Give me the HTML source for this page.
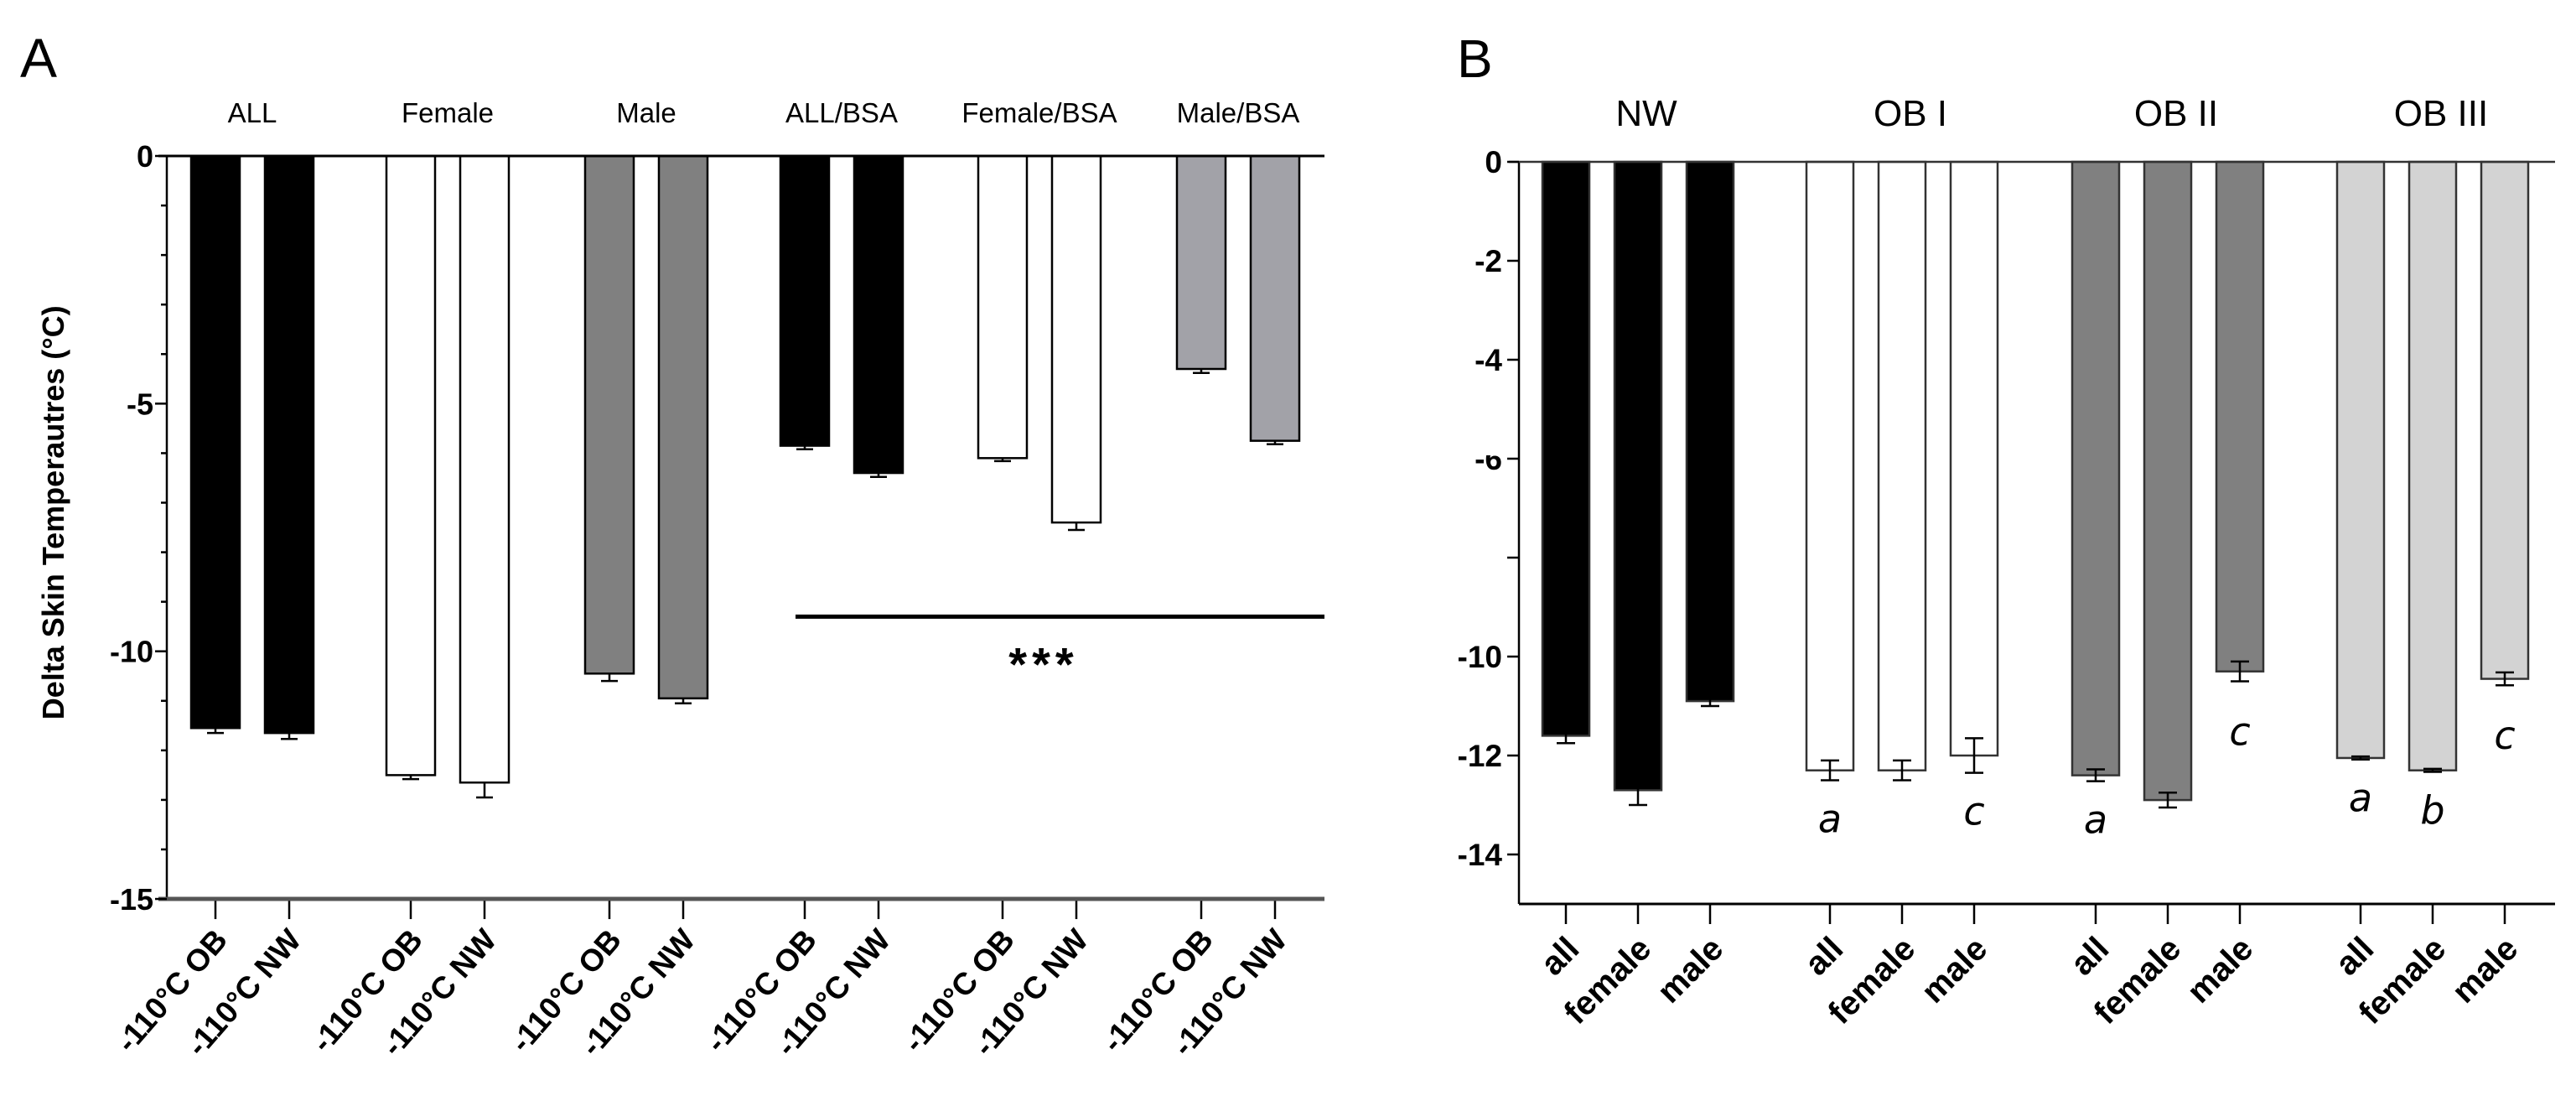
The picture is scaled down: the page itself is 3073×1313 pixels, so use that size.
<!DOCTYPE html>
<html><head><meta charset="utf-8"><style>
html,body{margin:0;padding:0;background:#fff;}
svg{display:block;font-family:"Liberation Sans",Arial,sans-serif;}
</style></head><body>
<svg id="fig" width="3073" height="1313" viewBox="0 0 3073 1313" xmlns="http://www.w3.org/2000/svg">
<rect width="3073" height="1313" fill="#fff"/>
<g id="pa"></g>
<g id="pb"></g>
</svg>
<script>
// Panel A data
const aGroups = ["ALL","Female","Male","ALL/BSA","Female/BSA","Male/BSA"];
const aTicks = ["-110°C OB","-110°C NW"];
const aOB = [-11.55,-12.5,-10.45,-5.85,-6.1,-4.3];
const aNW = [-11.65,-12.65,-10.95,-6.4,-7.4,-5.75];
const aOBerr = [0.1,0.08,0.15,0.07,0.06,0.08];
const aNWerr = [0.12,0.3,0.1,0.08,0.15,0.07];
const aYTicks = [0,-5,-10,-15];
// Panel B data
const bGroups = ["NW","OB I","OB II","OB III"];
const bCats = ["all","female","male"];
const bVals = [[-11.6,-12.7,-10.9],[-12.3,-12.3,-12.0],[-12.4,-12.9,-10.3],[-12.05,-12.3,-10.45]];
const bErr = [[0.15,0.3,0.1],[0.2,0.2,0.35],[0.12,0.15,0.2],[0.03,0.03,0.13]];
const bLetters = [["","",""],["a","","c"],["a","","c"],["a","b","c"]];
const bYTicks = [0,-2,-4,-6,-8,-10,-12,-14];
const bYLabels = ["0","-2","-4","-6","","-10","-12","-14"];

const NS="http://www.w3.org/2000/svg";
function mk(parent,tag,attrs,text){const e=document.createElementNS(NS,tag);for(const k in attrs)e.setAttribute(k,attrs[k]);if(text!==undefined)e.textContent=text;parent.appendChild(e);return e;}

// ---------- Panel A ----------
const pa=document.getElementById('pa');
const ayZero=186, ayUnit=59.07, axL=199, axR=1580;
const ay=v=>ayZero - v*ayUnit;
const aCx=(g,s)=>[257,490,727,960,1196,1433][g] + s*88;
const aCol=[["#000","#000"],["#fff","#fff"],["#808080","#808080"],["#000","#000"],["#fff","#fff"],["#a2a2a8","#a2a2a8"]];
let t=mk(pa,'text',{x:24,y:92,'font-size':66},'A');


for(let g=0;g<aGroups.length;g++){
  [aOB,aNW].forEach((arr,s)=>{
    const v=arr[g], e=[aOBerr,aNWerr][s][g], cx=aCx(g,s);
    let r=mk(pa,'rect',{x:cx-29,y:ay(0),width:58,height:ay(v)-ay(0),fill:aCol[g][s],stroke:'#000','stroke-width':2.5});
    
    
    let eb=mk(pa,'path',{d:`M${cx},${ay(v)} V${ay(v-e)} M${cx-10},${ay(v-e)} H${cx+10}`,stroke:'#000','stroke-width':2.5,fill:'none'});
    
    
    mk(pa,'line',{x1:cx,y1:ay(-15),x2:cx,y2:ay(-15)+24,stroke:'#000','stroke-width':2.5});
    let tl=mk(pa,'text',{x:0,y:0,'font-size':37,'font-weight':'bold','text-anchor':'end',transform:`translate(${cx+16},${ay(-15)+50}) rotate(-49)`},aTicks[s]);
    
    
  });
  let gl=mk(pa,'text',{x:(aCx(g,0)+aCx(g,1))/2,y:146,'font-size':33,'text-anchor':'middle'},aGroups[g]);
  
  
}
let ya=mk(pa,'line',{x1:axL,y1:ay(0),x2:axL,y2:ay(-15),stroke:'#000','stroke-width':2.5});


let za=mk(pa,'line',{x1:axL-10,y1:ay(0),x2:axR,y2:ay(0),stroke:'#000','stroke-width':3});


let xa=mk(pa,'line',{x1:axL-10,y1:ay(-15),x2:axR,y2:ay(-15),stroke:'#555','stroke-width':5});


for(let v=0;v>=-15;v--){mk(pa,'line',{x1:axL-(v%5===0?14:7),y1:ay(v),x2:axL,y2:ay(v),stroke:'#000','stroke-width':2.5});}
aYTicks.forEach(v=>{
  let l=mk(pa,'text',{x:axL-16,y:ay(v)+13,'font-size':36,'font-weight':'bold','text-anchor':'end'},String(v));
  
  
});
let yt=mk(pa,'text',{x:0,y:0,'font-size':36,'font-weight':'bold','text-anchor':'middle',transform:`translate(76,${ay(-7.2)}) rotate(-90)`},'Delta Skin Temperautres (°C)');


let sig=mk(pa,'line',{x1:949,y1:ay(-9.3),x2:axR,y2:ay(-9.3),stroke:'#000','stroke-width':5});


let st=mk(pa,'text',{x:1245,y:ay(-9.3)+76,'font-size':56,'font-weight':'bold','text-anchor':'middle','letter-spacing':6},'***');



// ---------- Panel B ----------
const pb=document.getElementById('pb');
const byZero=193, byUnit=59.0, bxL=1812, bxR=3048;
const by=v=>byZero - v*byUnit;
const bStart=[1868,2183,2500,2816];
const bCx=(g,i)=>bStart[g]+i*86;
const bCol=["#000","#fff","#808080","#d3d3d3"];
let tb=mk(pb,'text',{x:1738,y:92,'font-size':64},'B');


for(let g=0;g<bGroups.length;g++){
  for(let i=0;i<bCats.length;i++){
    const v=bVals[g][i], e=bErr[g][i], cx=bCx(g,i);
    let r=mk(pb,'rect',{x:cx-28,y:by(0),width:56,height:by(v)-by(0),fill:bCol[g],stroke:'#333','stroke-width':2.5});
    
    
    let eb=mk(pb,'path',{d:`M${cx},${by(v+e)} V${by(v-e)} M${cx-11},${by(v+e)} H${cx+11} M${cx-11},${by(v-e)} H${cx+11}`,stroke:'#000','stroke-width':2.5,fill:'none'});
    
    
    mk(pb,'line',{x1:cx,y1:by(-15),x2:cx,y2:by(-15)+24,stroke:'#000','stroke-width':2.5});
    let tl=mk(pb,'text',{x:0,y:0,'font-size':40,'font-weight':'bold','text-anchor':'end',transform:`translate(${cx+18},${by(-15)+56}) rotate(-45)`},bCats[i]);
    
    
    if(bLetters[g][i]){
      const below = v < -11.5;
      let lt=mk(pb,'text',{x:cx,y:below?by(v-e)+62:by(v-e)+76,'font-size':46,'font-style':'italic','text-anchor':'middle','font-family':'"DejaVu Sans",sans-serif'},bLetters[g][i]);
      
      
    }
  }
  let gl=mk(pb,'text',{x:bCx(g,1)+10,y:150,'font-size':44,'text-anchor':'middle'},bGroups[g]);
  
  
}
let yb=mk(pb,'line',{x1:bxL,y1:by(0),x2:bxL,y2:by(-15),stroke:'#000','stroke-width':2.5});


let zb=mk(pb,'line',{x1:bxL-12,y1:by(0),x2:bxR,y2:by(0),stroke:'#333','stroke-width':2.5});


let xb=mk(pb,'line',{x1:bxL,y1:by(-15),x2:bxR,y2:by(-15),stroke:'#000','stroke-width':3});


bYTicks.forEach((v,k)=>{
  mk(pb,'line',{x1:bxL-14,y1:by(v),x2:bxL,y2:by(v),stroke:'#000','stroke-width':2.5});
  if(bYLabels[k]){
    let l=mk(pb,'text',{x:bxL-20,y:by(v)+13,'font-size':37,'font-weight':'bold','text-anchor':'end'},bYLabels[k]);
    
    
  }
});
mk(pb,'rect',{x:bxL-80,y:by(-6)-30,width:65,height:26,fill:'#fff'});
</script>
</body></html>
